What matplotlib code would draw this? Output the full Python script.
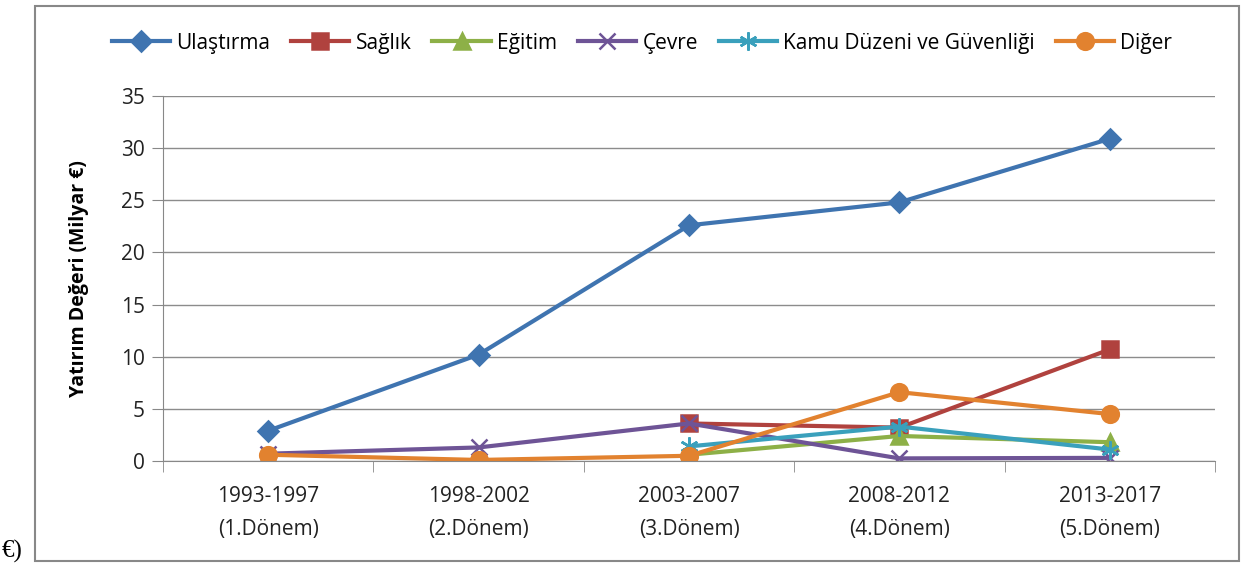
import numpy as np
import matplotlib.pyplot as plt
from matplotlib.patches import Rectangle

plt.rcParams['font.family'] = ['Open Sans', 'DejaVu Sans']

periods = ["1993-1997\n(1.Dönem)", "1998-2002\n(2.Dönem)", "2003-2007\n(3.Dönem)",
           "2008-2012\n(4.Dönem)", "2013-2017\n(5.Dönem)"]
nan = np.nan
ulastirma = [2.9, 10.2, 22.6, 24.8, 30.9]
saglik = [nan, nan, 3.6, 3.2, 10.7]
egitim = [nan, nan, 0.6, 2.4, 1.8]
cevre = [0.7, 1.3, 3.6, 0.25, 0.3]
kamu = [nan, nan, 1.4, 3.3, 1.1]
diger = [0.6, 0.1, 0.5, 6.6, 4.5]

series = [
    ("Ulaştırma", ulastirma, "#3F74B0", "D", 10),
    ("Sağlık", saglik, "#B0423E", "s", 11),
    ("Eğitim", egitim, "#8DB047", "^", 11),
    ("Çevre", cevre, "#6E5496", "x", 11),
    ("Kamu Düzeni ve Güvenliği", kamu, "#3AA0BC", (6, 2, 0), 13),
    ("Diğer", diger, "#E2822F", "o", 12),
]

fig = plt.figure(figsize=(12.44, 5.66), dpi=100)
ax = fig.add_axes([163 / 1244, 1 - 461 / 566, (1215 - 163) / 1244, (461 - 96) / 566])

x = np.arange(len(periods))
for name, vals, color, mk, ms in series:
    y = np.array(vals, dtype=float)
    ax.plot(x, y, color=color, lw=3, marker=mk, markersize=ms,
            markeredgewidth=1.8, markeredgecolor=color, label=name)

ax.set_xlim(-0.5, len(periods) - 0.5)
ax.set_ylim(0, 35)
ax.set_yticks(np.arange(0, 36, 5))
ax.set_xticks(x)
ax.set_xticklabels(periods, fontsize=15, color="#222222", linespacing=1.75)
ax.set_xticks(np.arange(-0.5, len(periods), 1), minor=True)
ax.tick_params(axis="x", which="major", length=0, pad=18)
ax.tick_params(axis="x", which="minor", length=8, color="#888888", direction="out")
ax.tick_params(axis="y", length=8, color="#888888", labelsize=15, labelcolor="#222222", pad=5)
ax.grid(axis="y", color="#8c8c8c", lw=1)
ax.set_axisbelow(True)
for s in ("top", "right"):
    ax.spines[s].set_visible(False)
for s in ("left", "bottom"):
    ax.spines[s].set_color("#888888")
ax.set_ylabel("Yatırım Değeri (Milyar €)", fontsize=14, fontweight="bold", labelpad=23)

fig.legend(loc="center", bbox_to_anchor=(0.516, 1 - 43 / 566), ncol=6, frameon=False,
           fontsize=15, handlelength=2.8, columnspacing=1.0, handletextpad=0.3)

fig.patches.append(Rectangle((35 / 1244, 1 - 561 / 566), (1239 - 35) / 1244, (561 - 6) / 566,
                             transform=fig.transFigure, fill=False, ec="#888888", lw=1.5))
fig.text(2 / 1244, 1 - 558 / 566, "€)", family="Liberation Serif", fontsize=18, va="baseline")

fig.savefig("out.png", dpi=100)
